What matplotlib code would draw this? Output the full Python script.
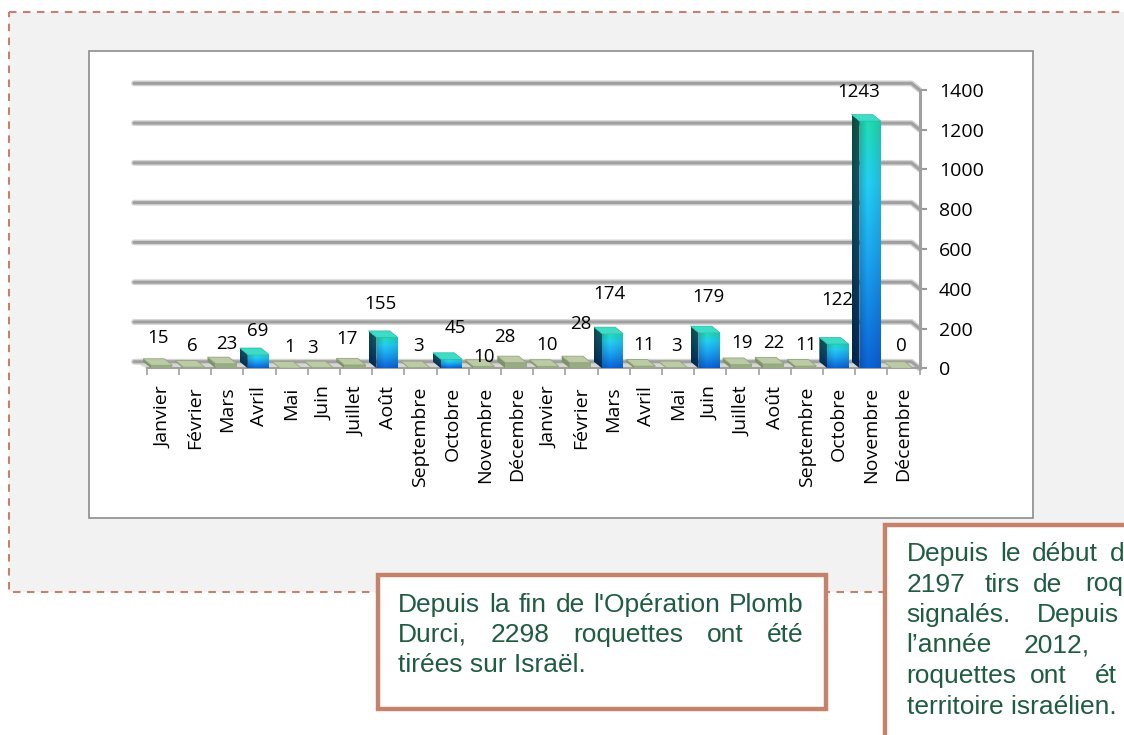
import matplotlib
matplotlib.use("Agg")
import matplotlib.pyplot as plt
import numpy as np
from matplotlib.patches import Rectangle, Polygon
from matplotlib.colors import to_rgb


# ======================================================
# DATA
# ======================================================
months = ["Janvier", "Février", "Mars", "Avril", "Mai", "Juin", "Juillet",
          "Août", "Septembre", "Octobre", "Novembre", "Décembre"]
categories = months + months
rockets = [15, 6, 23, 69, 1, 3, 17, 155, 3, 45, 10, 28,
           10, 28, 174, 11, 3, 179, 19, 22, 11, 122, 1243, 0]
y_ticks = [0, 200, 400, 600, 800, 1000, 1200, 1400]

note_left = [
    "Depuis la fin de l'Opération Plomb",
    "Durci, 2298 roquettes ont été",
    "tirées sur Israël.",
]
# right note is cut by the page edge: only the visible part is written
note_right = [
    ["Depuis", "le", "début", "d"],
    ["2197", "tirs", "de", "roq"],
    ["signalés.", "Depuis"],
    ["l’année", "2012,"],
    ["roquettes", "ont", "ét"],
    ["territoire israélien."],
]

# label nudges (px) : dx, height of label centre above bar top
label_nudge = [(-5, 27), (-3, 21), (0, 20), (-2, 24), (-2, 21), (-11, 20),
               (-9, 26), (-8, 33), (-2, 22), (3, 31), (-1, 9), (-12, 26),
               (-2, 21), (-1, 39), (-4, 40), (-2, 21), (-2, 22), (-2, 36),
               (0, 22), (-1, 21), (-1, 21), (-2, 44), (-13, 29), (-2, 22)]
# word start positions (px) of the clipped right note
note_right_x = [[906.7, 1000, 1031.7, 1110], [906.7, 985, 1033, 1085],
                [906.7, 1037], [906.7, 1024], [906.7, 1030, 1095], [906.7]]

# ======================================================
# Layout constants (pixels)
# ======================================================
W, H = 1124, 735
CAT_PX = 32.2          # width of one category
X0_PX = 146.7          # left edge of first category
Y0_PX = 368.3          # value 0
V_PX = 39.77 / 200.0   # px per rocket
BACK_DX = -0.25        # depth offset of back wall (categories)
BACK_DY = 33           # depth offset of back wall (value units)

CHART_FONT = "Open Sans"
NOTE_FONT = "Liberation Sans"
NOTE_COLOR = "#1f5c40"
BOX_COLOR = "#c5826a"

fig = plt.figure(figsize=(W / 100, H / 100), dpi=100)

# -------------------------
# background canvas in pixel coords
# -------------------------
bg = fig.add_axes([0, 0, 1, 1])
bg.set_xlim(0, W)
bg.set_ylim(H, 0)
bg.axis("off")

bg.add_patch(Rectangle((8.7, 11.7), 1300, 591.5 - 11.7, fc="#f2f2f2",
                       ec=BOX_COLOR, lw=1.5, ls=(0, (3.6, 3.1)), zorder=1))
bg.add_patch(Rectangle((88.7, 50.8), 1033.3 - 88.7, 518 - 50.8, fc="white",
                       ec="#8c8c8c", lw=1.2, zorder=2))

# note boxes
bg.add_patch(Rectangle((378.3, 575.3), 825.8 - 378.3, 708.7 - 575.3,
                       fc="white", ec=BOX_COLOR, lw=3.2, zorder=3))
bg.add_patch(Rectangle((885.3, 524.7), 500, 300,
                       fc="white", ec=BOX_COLOR, lw=3.2, zorder=3))

note_kw = dict(fontsize=19, family=NOTE_FONT, color=NOTE_COLOR, zorder=4)
renderer = fig.canvas.get_renderer()


def justify(lines, x0, x1, y0, dy):
    for k, line in enumerate(lines):
        words = line.split()
        y = y0 + k * dy
        if k == len(lines) - 1 or len(words) == 1:
            bg.text(x0, y, line, ha="left", va="baseline", **note_kw)
            continue
        widths = []
        for w in words:
            t = bg.text(0, 0, w, **note_kw)
            widths.append(t.get_window_extent(renderer).width)
            t.remove()
        gap = (x1 - x0 - sum(widths)) / (len(words) - 1)
        x = x0
        for w, wd in zip(words, widths):
            bg.text(x, y, w, ha="left", va="baseline", **note_kw)
            x += wd + gap


justify(note_left, 398, 804, 611.7, 30)

for k, (words, xs) in enumerate(zip(note_right, note_right_x)):
    for w, x in zip(words, xs):
        bg.text(x, 561 + k * 30.5, w, ha="left", va="baseline", **note_kw)

# ======================================================
# Chart axes
# ======================================================
xlim = (-1.0, 24.0)
ylim = (0, 1480)
left_px = X0_PX + (xlim[0] + 0.5) * CAT_PX
right_px = X0_PX + (xlim[1] + 0.5) * CAT_PX
top_px = Y0_PX - ylim[1] * V_PX
ax = fig.add_axes([left_px / W, 1 - Y0_PX / H,
                   (right_px - left_px) / W, (Y0_PX - top_px) / H])
ax.patch.set_alpha(0)

n = len(rockets)
x_right = n - 0.5

# floor
ax.add_patch(Polygon([(-0.5, 0), (x_right, 0), (x_right + BACK_DX, BACK_DY),
                      (-0.894, BACK_DY)], closed=True, fc="#d6d9d2",
                     ec="none", zorder=0.9, clip_on=False))

# back wall gridlines with bent right end
for v in y_ticks:
    xs = [-0.894, x_right + BACK_DX, x_right]
    ys = [v + BACK_DY, v + BACK_DY, v]
    ax.plot(xs, ys, color="#d4d4d4", lw=4.2, solid_capstyle="round",
            clip_on=False, zorder=1)
    ax.plot(xs, ys, color="#a0a0a0", lw=2.2, solid_capstyle="round",
            clip_on=False, zorder=1.1)


def ramp(stops, t):
    pos = [s[0] for s in stops]
    cols = np.array([to_rgb(s[1]) for s in stops])
    return np.stack([np.interp(t, pos, cols[:, c]) for c in range(3)], axis=-1)


front_stops = [(0.0, "#0b5fcf"), (0.45, "#1a9fe8"), (0.75, "#22c6ea"),
               (1.0, "#1fd3ad")]


def gradient_face(verts, extent, stops, shade, z):
    poly = Polygon(verts, closed=True, fc="none", ec="none", zorder=z)
    ax.add_patch(poly)
    t = np.linspace(0, 1, 80)
    col = ramp(stops, t)[:, None, :]
    u = np.linspace(0, 1, 30)
    fac = np.interp(u, shade[0], shade[1])[None, :, None]
    img = np.clip(col * fac, 0, 1)
    im = ax.imshow(img, extent=extent, origin="lower", aspect="auto",
                   interpolation="bilinear", zorder=z)
    im.set_clip_path(poly)


for i, v in enumerate(rockets):
    f0, f1 = i - 0.36, i + 0.30
    b0 = f0 + BACK_DX
    side = [(f0, 0), (f0, v), (b0, v + BACK_DY), (b0, BACK_DY)]
    front = [(f0, 0), (f1, 0), (f1, v), (f0, v)]
    top = [(f0, v), (f1, v), (f1 + BACK_DX, v + BACK_DY), (b0, v + BACK_DY)]
    if v >= 40:
        gradient_face(side, [b0, f0, 0, v + BACK_DY], front_stops,
                      ([0, 1], [0.35, 0.45]), 3)
        gradient_face(front, [f0, f1, 0, v], front_stops,
                      ([0, 0.35, 1], [0.88, 1.05, 0.93]), 3)
        ax.add_patch(Polygon(top, closed=True, fc="#3ddcc6", ec="#2bb8a6",
                             lw=0.5, zorder=3.2))
    else:
        ax.add_patch(Polygon(side, closed=True, fc="#7d9266", ec="none",
                             zorder=3))
        ax.add_patch(Polygon(front, closed=True, fc="#98ab82", ec="none",
                             zorder=3))
        ax.add_patch(Polygon(top, closed=True, fc="#bccba6", ec="#93a67e",
                             lw=0.6, zorder=3.2))

    dx, dy = label_nudge[i]
    ax.annotate(str(v), (i, v), xytext=(dx * 0.72, dy * 0.72),
                textcoords="offset points", ha="center", va="center",
                fontsize=13.5, family=CHART_FONT, color="black", zorder=6)

ax.set_xlim(*xlim)
ax.set_ylim(*ylim)

# -------------------------
# Axes styling
# -------------------------
for s in ["left", "top"]:
    ax.spines[s].set_visible(False)
ax.spines["bottom"].set_bounds(-0.5, x_right)
ax.spines["bottom"].set_color("#a0a0a0")
ax.spines["bottom"].set_linewidth(1.5)
ax.spines["right"].set_position(("data", x_right))
ax.spines["right"].set_bounds(0, y_ticks[-1])
ax.spines["right"].set_color("#a0a0a0")
ax.spines["right"].set_linewidth(2.2)

ax.yaxis.tick_right()
ax.set_yticks(y_ticks)
ax.set_yticklabels([str(t) for t in y_ticks], family=CHART_FONT, fontsize=14)
ax.tick_params(axis="y", length=5, width=1.5, color="#9a9a9a", pad=9)

ax.set_xticks(np.arange(-0.5, n, 1.0))
ax.set_xticklabels([])
ax.set_xticks(range(n), minor=True)
ax.set_xticklabels(categories, minor=True, rotation=90, family=CHART_FONT,
                   fontsize=14, ha="center", va="top")
ax.tick_params(axis="x", which="major", length=5, width=1.2,
               color="#a0a0a0")
ax.tick_params(axis="x", which="minor", length=0, pad=13)

fig.savefig("out.png", dpi=100)
